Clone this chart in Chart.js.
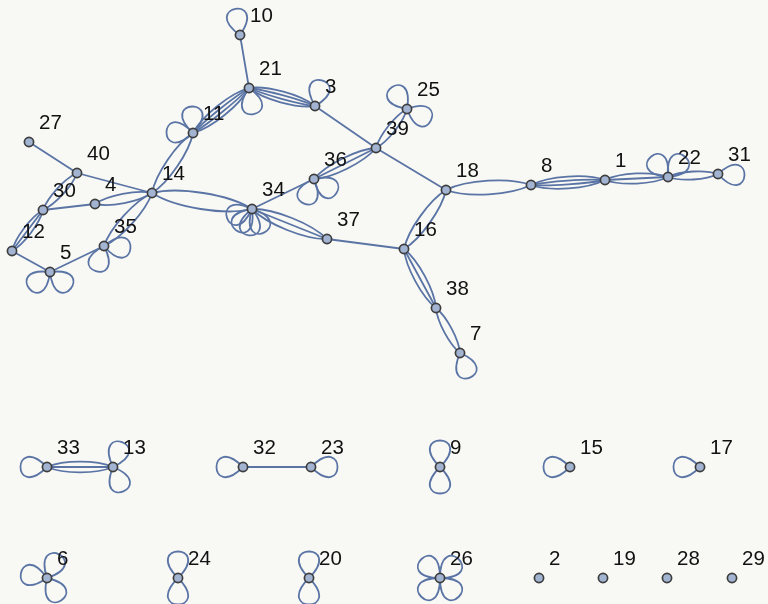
<!DOCTYPE html>
<html>
<head>
<meta charset="utf-8">
<script src="https://cdn.jsdelivr.net/npm/chart.js@4"></script>
<style>
  html, body { margin: 0; padding: 0; background: #f8f8f4; }
  #graph { display: block; }
</style>
</head>
<body>
<canvas id="graph" width="768" height="604"></canvas>
<script>
// vertices and their layout positions
const nodeIds = [10, 21, 3, 11, 27, 40, 36, 39, 25, 18, 8, 1, 22, 31, 30, 4, 14, 34, 37, 16,
  12, 35, 5, 38, 7, 33, 13, 32, 23, 9, 15, 17, 6, 24, 20, 26, 2, 19, 28, 29];
const nodeX = [240, 249, 315, 193, 29, 77, 314, 376, 407, 446, 531, 605, 668, 718, 43, 95, 152, 252, 327, 404,
  12, 104, 50, 436, 460, 47, 113, 243, 311, 440, 570, 700, 47, 178, 309, 440, 539, 603, 667, 732];
const nodeY = [35, 88, 106, 133, 142, 173, 179, 148, 109, 190, 185, 180, 177, 174, 210, 204, 193, 209, 239, 249,
  251, 246, 272, 308, 353, 467, 467, 467, 467, 467, 467, 467, 578, 578, 578, 578, 578, 578, 578, 578];

// edges between distinct vertices, with multiplicity
const edgeFrom  = [10, 21, 21, 3, 11, 14, 14, 14, 14, 40, 40, 30, 30, 12, 5, 34, 34, 36, 39, 39, 37, 16, 16, 38, 18, 8, 1, 22, 33, 32];
const edgeTo    = [21, 11, 3, 39, 14, 4, 40, 35, 34, 27, 30, 4, 12, 5, 35, 36, 37, 39, 25, 18, 16, 18, 38, 7, 8, 1, 22, 31, 13, 23];
const edgeCount = [1, 4, 4, 1, 2, 2, 1, 2, 2, 1, 2, 1, 3, 1, 1, 1, 3, 3, 2, 1, 1, 2, 3, 2, 2, 4, 3, 2, 3, 1];

// self loops: one entry per loop, with the direction it points to (degrees, screen)
const loopNode  = [10, 21, 3, 11, 11, 25, 25, 36, 36, 34, 34, 34, 34, 5, 5, 35, 35, 7, 22, 22, 31,
  33, 13, 13, 32, 23, 9, 9, 15, 17, 6, 6, 6, 24, 24, 20, 20, 26, 26, 26, 26];
const loopAngle = [-100, 80, -75, -92, 182, -125, 25, 112, 32, 160, 127, 97, 62, 142, 38, 108, 5, 68, -130, -50, 3,
  180, -70, 67, 180, 0, -90, 90, 180, 180, 190, -63, 58, -90, 90, -90, 90, -135, -45, 45, 135];

const edgeColor = "#5a74a5";

function nodePixel(chart, id) {
  const i = nodeIds.indexOf(id);
  return {
    x: chart.scales.x.getPixelForValue(nodeX[i]),
    y: chart.scales.y.getPixelForValue(nodeY[i]),
  };
}

const graphPlugin = {
  id: "graphDrawing",
  beforeDatasetsDraw(chart) {
    const ctx = chart.ctx;
    ctx.save();
    ctx.strokeStyle = edgeColor;
    ctx.lineWidth = 1.8;
    ctx.lineCap = "round";

    // edges, multi-edges spread as lenses
    edgeFrom.forEach((from, k) => {
      const a = nodePixel(chart, from);
      const b = nodePixel(chart, edgeTo[k]);
      const n = edgeCount[k];
      const dx = b.x - a.x;
      const dy = b.y - a.y;
      const len = Math.hypot(dx, dy);
      const nx = -dy / len;
      const ny = dx / len;
      for (let j = 0; j < n; j++) {
        const bulge = n === 1 ? 0 : (j / (n - 1) - 0.5) * 2 * 0.08 * len;
        const h = bulge / 0.75;
        ctx.beginPath();
        ctx.moveTo(a.x, a.y);
        ctx.bezierCurveTo(
          a.x + dx * 0.25 + nx * h, a.y + dy * 0.25 + ny * h,
          a.x + dx * 0.75 + nx * h, a.y + dy * 0.75 + ny * h,
          b.x, b.y
        );
        ctx.stroke();
      }
    });

    // self loops as petals
    const reach = 50;
    const spread = (45 * Math.PI) / 180;
    loopNode.forEach((id, k) => {
      const p = nodePixel(chart, id);
      const t = (loopAngle[k] * Math.PI) / 180;
      ctx.beginPath();
      ctx.moveTo(p.x, p.y);
      ctx.bezierCurveTo(
        p.x + reach * Math.cos(t - spread), p.y + reach * Math.sin(t - spread),
        p.x + reach * Math.cos(t + spread), p.y + reach * Math.sin(t + spread),
        p.x, p.y
      );
      ctx.stroke();
    });
    ctx.restore();
  },
  afterDatasetsDraw(chart) {
    const ctx = chart.ctx;
    ctx.save();
    ctx.fillStyle = "#111";
    ctx.font = "20.5px 'Liberation Sans', Arial, sans-serif";
    ctx.textAlign = "left";
    ctx.textBaseline = "alphabetic";
    nodeIds.forEach((id) => {
      const p = nodePixel(chart, id);
      ctx.fillText(String(id), p.x + 10, p.y - 13);
    });
    ctx.restore();
  },
};

new Chart(document.getElementById("graph"), {
  type: "scatter",
  data: {
    datasets: [
      {
        data: nodeIds.map((id, i) => ({ x: nodeX[i], y: nodeY[i] })),
        pointRadius: 4.6,
        pointHoverRadius: 4.6,
        pointBorderWidth: 1.7,
        pointBackgroundColor: "#a3b4d2",
        pointBorderColor: "#3d3d3d",
        clip: false,
      },
    ],
  },
  options: {
    responsive: false,
    animation: false,
    devicePixelRatio: 1,
    layout: { padding: 0, autoPadding: false },
    scales: {
      x: { type: "linear", min: 0, max: 768, display: false },
      y: { type: "linear", min: 0, max: 604, reverse: true, display: false },
    },
    plugins: {
      legend: { display: false },
      tooltip: { enabled: false },
    },
  },
  plugins: [graphPlugin],
});
</script>
</body>
</html>
